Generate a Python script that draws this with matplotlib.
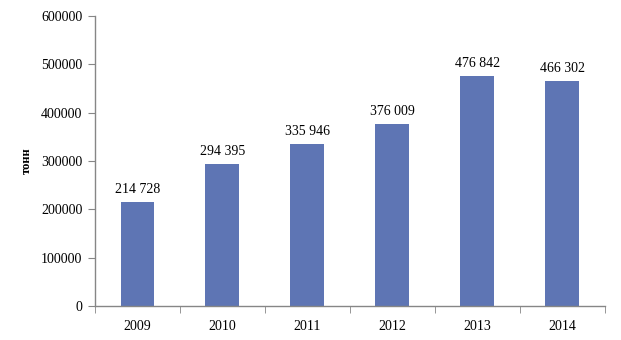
import matplotlib
matplotlib.use("Agg")
import matplotlib.pyplot as plt
import numpy as np

years = ["2009", "2010", "2011", "2012", "2013", "2014"]
tonnes = [214728, 294395, 335946, 376009, 476842, 466302]
value_labels = ["214 728", "294 395", "335 946", "376 009", "476 842", "466 302"]

plt.rcParams["font.family"] = ["Liberation Serif", "DejaVu Serif"]

fig = plt.figure(figsize=(6.21, 3.40), dpi=100)
ax = fig.add_axes([0.153, 0.1, 0.821, 0.853])

x = np.arange(len(years))
bars = ax.bar(x, tonnes, width=0.4, color="#5E75B4")

for bar, label in zip(bars, value_labels):
    ax.text(
        bar.get_x() + bar.get_width() / 2,
        bar.get_height() + 12000,
        label,
        ha="center",
        va="bottom",
        fontsize=10
    )

ax.set_xlim(-0.5, len(years) - 0.5)
ax.set_ylim(0, 600000)
ax.set_yticks(range(0, 600001, 100000))
ax.set_yticklabels([str(v) for v in range(0, 600001, 100000)], fontsize=10)

ax.set_xticks(x)
ax.set_xticklabels(years, fontsize=10)
ax.tick_params(axis="x", which="major", length=0, pad=10)
ax.set_xticks(np.arange(-0.5, len(years)), minor=True)
ax.tick_params(axis="x", which="minor", length=5, color="#868686", direction="out")
ax.tick_params(axis="y", length=5, color="#868686", direction="out", pad=4)

for side in ("top", "right"):
    ax.spines[side].set_visible(False)
for side in ("left", "bottom"):
    ax.spines[side].set_color("#868686")
    ax.spines[side].set_linewidth(1)

ax.set_ylabel("тонн", fontsize=9, fontweight="bold", labelpad=6)

fig.savefig("out.png", dpi=100)
